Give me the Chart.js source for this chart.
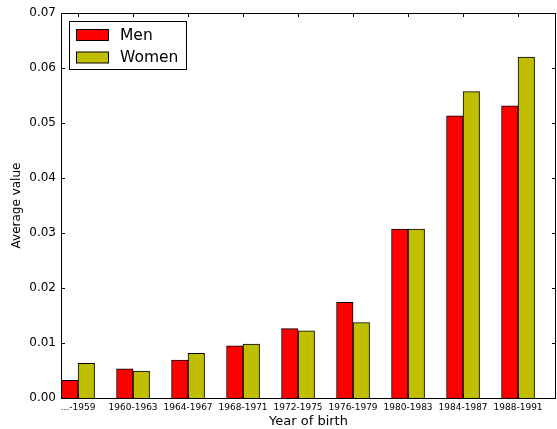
<!DOCTYPE html>
<html>
<head>
<meta charset="utf-8">
<script src="https://cdn.jsdelivr.net/npm/chart.js@4/dist/chart.umd.min.js"></script>
<style>
  html, body { margin: 0; padding: 0; background: #fff; }
  #wrap { width: 557px; height: 429px; }
</style>
</head>
<body>
<div id="wrap"><canvas id="myChart"></canvas></div>
<script>
// data
var years = ["...-1959", "1960-1963", "1964-1967", "1968-1971", "1972-1975",
             "1976-1979", "1980-1983", "1984-1987", "1988-1991"];
var men   = [0.0032, 0.0053, 0.0069, 0.0095, 0.0126, 0.0174, 0.0307, 0.0513, 0.0531];
var women = [0.0063, 0.0049, 0.0081, 0.0098, 0.0122, 0.0137, 0.0307, 0.0557, 0.0620];
var yTicks = [0, 0.01, 0.02, 0.03, 0.04, 0.05, 0.06, 0.07];

var font = "'DejaVu Sans', sans-serif";

// men bar sits left of the tick, women bar right of it
function barData(values, shift) {
  return values.map(function (v, i) { return { x: i + shift, y: v }; });
}

// box around the plot, inward ticks on all four sides, legend in the corner
var framePlugin = {
  id: 'frame',
  afterDraw: function (chart) {
    var ctx = chart.ctx;
    var a = chart.chartArea;
    var xs = chart.scales.x, ys = chart.scales.y;
    ctx.save();
    ctx.strokeStyle = '#000';
    ctx.lineWidth = 1;
    ctx.strokeRect(Math.round(a.left) + 0.5, Math.round(a.top) + 0.5,
                   Math.round(a.right - a.left) - 1, Math.round(a.bottom - a.top));
    ctx.beginPath();
    years.forEach(function (_, i) {
      var px = Math.round(xs.getPixelForValue(i)) + 0.5;
      ctx.moveTo(px, a.bottom); ctx.lineTo(px, a.bottom - 4);
      ctx.moveTo(px, a.top); ctx.lineTo(px, a.top + 4);
    });
    yTicks.forEach(function (v) {
      var py = Math.round(ys.getPixelForValue(v)) + 0.5;
      ctx.moveTo(a.left, py); ctx.lineTo(a.left + 4, py);
      ctx.moveTo(a.right, py); ctx.lineTo(a.right - 4, py);
    });
    ctx.stroke();

    // legend
    var lx = a.left + 8, ly = a.top + 8;
    ctx.fillStyle = '#fff';
    ctx.fillRect(lx, ly, 117, 48);
    ctx.strokeRect(lx + 0.5, ly + 0.5, 117, 48);
    ctx.font = "15.5px " + font;
    ctx.textBaseline = 'middle';
    chart.data.datasets.forEach(function (ds, k) {
      var ry = ly + 8 + k * 22.5;
      ctx.fillStyle = ds.backgroundColor;
      ctx.fillRect(lx + 7.5, ry + 0.5, 32, 11);
      ctx.strokeRect(lx + 7.5, ry + 0.5, 32, 11);
      ctx.fillStyle = '#000';
      ctx.fillText(ds.label, lx + 51, ry + 6.5);
    });
    ctx.restore();
  }
};

var ctx = document.getElementById("myChart");
var myChart = new Chart(ctx, {
  type: 'bar',
  data: {
    datasets: [{
      label: 'Men',
      data: barData(men, -0.15),
      backgroundColor: '#ff0000',
      borderColor: '#000',
      borderWidth: 1,
      grouped: false,
      barThickness: 16.5
    }, {
      label: 'Women',
      data: barData(women, 0.15),
      backgroundColor: '#bfbf00',
      borderColor: '#000',
      borderWidth: 1,
      grouped: false,
      barThickness: 16.5
    }]
  },
  options: {
    responsive: true,
    maintainAspectRatio: false,
    animation: false,
    layout: { padding: { top: 13, right: 1, left: 10, bottom: 0 } },
    plugins: {
      legend: { display: false },
      tooltip: { enabled: false }
    },
    scales: {
      x: {
        type: 'linear',
        offset: false,
        min: -0.31,
        max: 8.69,
        grid: { display: false, drawTicks: false },
        border: { display: false },
        afterBuildTicks: function (axis) {
          axis.ticks = years.map(function (_, i) { return { value: i }; });
        },
        afterFit: function (axis) {
          axis.height = 31;
          axis.paddingLeft = 0;
          axis.paddingRight = 0;
        },
        ticks: {
          autoSkip: false,
          maxRotation: 0,
          padding: 4,
          color: '#000',
          font: { family: font, size: 9 },
          callback: function (v) { return years[v]; }
        },
        title: {
          display: true,
          text: 'Year of birth',
          color: '#000',
          font: { family: font, size: 13 },
          padding: { top: 0, bottom: 0 }
        }
      },
      y: {
        min: 0,
        max: 0.07,
        grid: { display: false, drawTicks: false },
        border: { display: false },
        afterBuildTicks: function (axis) {
          axis.ticks = yTicks.map(function (v) { return { value: v }; });
        },
        afterFit: function (axis) {
          axis.width = 51;
          axis.paddingTop = 0;
          axis.paddingBottom = 0;
        },
        ticks: {
          padding: 5,
          color: '#000',
          font: { family: font, size: 12 },
          callback: function (v) { return v.toFixed(2); }
        },
        title: {
          display: true,
          text: 'Average value',
          color: '#000',
          font: { family: font, size: 12 },
          padding: { top: 0, bottom: 4 }
        }
      }
    }
  },
  plugins: [framePlugin]
});
</script>
</body>
</html>
